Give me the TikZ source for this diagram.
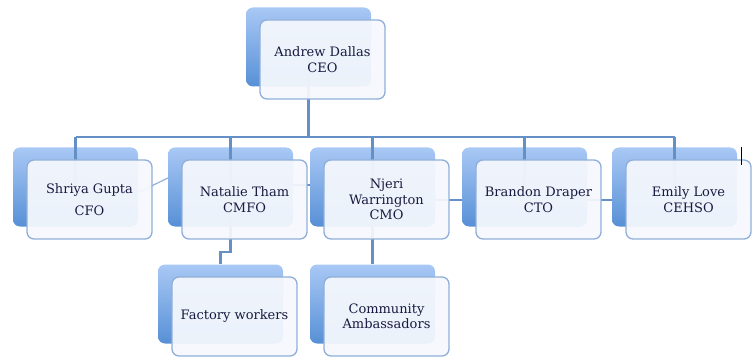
\documentclass[tikz,border=0pt]{standalone}
\usepackage{fontspec}
\setmainfont{DejaVu Serif}
\usetikzlibrary{positioning}

\definecolor{backtop}{HTML}{A9C8F5}
\definecolor{backbot}{HTML}{5790D6}
\definecolor{frontfill}{HTML}{F5F8FD}
\definecolor{frontline}{HTML}{90AFD8}
\definecolor{linkcol}{HTML}{6590C6}
\definecolor{textcol}{HTML}{1A1A40}

\begin{document}
\begin{tikzpicture}[x=1pt,y=-1pt]
  \tikzset{
    back/.style={rectangle,rounded corners=7pt,inner sep=0pt,minimum width=125pt,minimum height=79pt,
      top color=backtop,bottom color=backbot},
    front/.style={rectangle,rounded corners=7pt,inner sep=0pt,minimum width=125pt,minimum height=79pt,
      draw=frontline,line width=1.3pt,fill=frontfill,fill opacity=0.94,text opacity=1,text=textcol,
      align=center,font=\fontsize{13}{15.5}\selectfont},
    link/.style={draw=linkcol,line width=2.4pt},
    thinlink/.style={draw=linkcol!70,line width=1.2pt}
  }
  \useasboundingbox (0,0) rectangle (752,358);

  % back boxes
  \node[back] (ceob) at (308.5,47) {};
  \node[back] (cfob) at (75.5,187) {};
  \node[back] (cmfob) at (230.5,187) {};
  \node[back] (cmob) at (372.5,187) {};
  \node[back] (ctob) at (524.5,187) {};
  \node[back] (cehsob) at (674.5,187) {};
  \node[back] (facb) at (220.5,304) {};
  \node[back] (ambb) at (372.5,304) {};

  % connectors
  \coordinate (bus) at (0,137);
  \draw[link] (ceob.center) -- (ceob.center |- bus);
  \draw[link] (bus -| cfob.center) -- (bus -| cehsob.center);
  \foreach \n in {cfob,cmfob,cmob,ctob,cehsob}
    \draw[link] (bus -| \n.center) -- (\n.center);
  \draw[link] (cmfob.center) -- ++(0,65) -| (facb.north);
  \draw[link] (cmob.center) -- (ambb.north);
  \draw[thinlink] ([yshift=-5.5pt]cfob.east) -- ([yshift=9pt]cmfob.west);
  \draw[link] ([yshift=2pt]cmfob.east) -- ([yshift=2pt]cmob.west);
  \draw[link] ([yshift=-13pt]cmob.east) -- ([yshift=-13pt]ctob.west);
  \draw[link] ([yshift=-13pt]ctob.east) -- ([yshift=-13pt]cehsob.west);

  % front boxes
  \node[front] (ceo) at ([shift={(14,12.5)}]ceob.center) {Andrew Dallas\\CEO};
  \node[front] (cfo) at ([shift={(14,12.5)}]cfob.center) {Shriya Gupta\\[6pt]CFO};
  \node[front] (cmfo) at ([shift={(14,12.5)}]cmfob.center) {Natalie Tham\\CMFO};
  \node[front] (cmo) at ([shift={(14,12.5)}]cmob.center) {Njeri\\Warrington\\CMO};
  \node[front] (cto) at ([shift={(14,12.5)}]ctob.center) {Brandon Draper\\CTO};
  \node[front] (cehso) at ([shift={(14,12.5)}]cehsob.center) {Emily Love\\CEHSO};
  \node[front] (fac) at ([shift={(14,12.5)}]facb.center) {Factory workers};
  \node[front] (amb) at ([shift={(14,12.5)}]ambb.center) {Community\\Ambassadors};

  \draw[black,line width=0.8pt] (741,147) -- (741,165);
\end{tikzpicture}
\end{document}
